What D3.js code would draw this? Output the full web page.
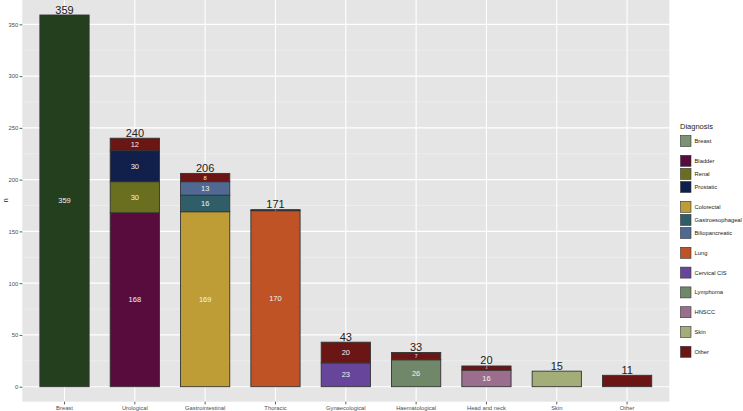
<!DOCTYPE html>
<html>
<head>
<meta charset="utf-8">
<script src="https://cdn.jsdelivr.net/npm/d3@7"></script>
<style>
  body { margin: 0; background: #fff; }
  svg { display: block; font-family: "Liberation Sans", Arial, sans-serif; }
</style>
</head>
<body>
<div id="container"></div>
<script>
const width = 743;
const height = 411;

// categories on the x axis
const categories = ["Breast", "Urological", "Gastrointestinal", "Thoracic", "Gynaecological",
  "Haematological", "Head and neck", "Skin", "Other"];
// bars that carry no inner label in the original
const unlabelled = ["Skin", "Other"];

// diagnoses in legend / stacking order (bottom to top)
const diagnoses = ["Breast", "Bladder", "Renal", "Prostatic", "Colorectal", "Gastroesophageal",
  "Biliopancreatic", "Lung", "Cervical CIS", "Lymphoma", "HNSCC", "Skin", "Other"];
const diagnosisColors = ["#243f1e", "#580b3d", "#6a6f20", "#111f4b", "#be9d36", "#2f5d68",
  "#4f6993", "#c05325", "#67459a", "#71876a", "#9b6e8d", "#a2ad77", "#6b1515"];
const legendColors = ["#7c9272", "#580b3d", "#6a6f20", "#111f4b", "#be9d36", "#2f5d68",
  "#4f6993", "#c05325", "#67459a", "#71876a", "#9b6e8d", "#a2ad77", "#6b1515"];
const legendGroup = [0, 1, 1, 1, 2, 2, 2, 3, 4, 5, 6, 7, 8];

// stacked segments
const segCategory = ["Breast",
  "Urological", "Urological", "Urological", "Urological",
  "Gastrointestinal", "Gastrointestinal", "Gastrointestinal", "Gastrointestinal",
  "Thoracic", "Thoracic",
  "Gynaecological", "Gynaecological",
  "Haematological", "Haematological",
  "Head and neck", "Head and neck",
  "Skin", "Other"];
const segDiagnosis = ["Breast",
  "Bladder", "Renal", "Prostatic", "Other",
  "Colorectal", "Gastroesophageal", "Biliopancreatic", "Other",
  "Lung", "Other",
  "Cervical CIS", "Other",
  "Lymphoma", "Other",
  "HNSCC", "Other",
  "Skin", "Other"];
const segN = [359, 168, 30, 30, 12, 169, 16, 13, 8, 170, 1, 23, 20, 26, 7, 16, 4, 15, 11];

const yTicks = [0, 50, 100, 150, 200, 250, 300, 350];
const yMinor = [25, 75, 125, 175, 225, 275, 325];

// table for d3.stack
const table = categories.map(c => {
  const row = { category: c };
  diagnoses.forEach(d => row[d] = 0);
  segCategory.forEach((sc, i) => { if (sc === c) row[segDiagnosis[i]] += segN[i]; });
  return row;
});
const totals = table.map(r => ({ category: r.category, total: d3.sum(diagnoses, d => r[d]) }));

const panel = { left: 22.3, right: 669.3, top: 0, bottom: 401.7 };

const svg = d3.select('#container').append('svg')
  .attr('width', width).attr('height', height);

const x = d3.scaleBand()
  .domain(categories)
  .range([panel.left, panel.right])
  .paddingInner(0.3)
  .paddingOuter(0.25);

const y = d3.scaleLinear()
  .domain([-14.5, 373.5])
  .range([panel.bottom, panel.top]);

const color = d3.scaleOrdinal().domain(diagnoses).range(diagnosisColors);

// panel background
svg.append('rect')
  .attr('x', panel.left).attr('y', panel.top)
  .attr('width', panel.right - panel.left).attr('height', panel.bottom - panel.top)
  .attr('fill', '#e5e5e5');

const grid = svg.append('g');
grid.selectAll('.minor').data(yMinor).enter().append('line')
  .attr('x1', panel.left).attr('x2', panel.right)
  .attr('y1', d => y(d)).attr('y2', d => y(d))
  .attr('stroke', '#f2f2f2').attr('stroke-width', 0.6);
grid.selectAll('.major').data(yTicks).enter().append('line')
  .attr('x1', panel.left).attr('x2', panel.right)
  .attr('y1', d => y(d)).attr('y2', d => y(d))
  .attr('stroke', '#fff').attr('stroke-width', 1.1);
grid.selectAll('.vmajor').data(categories).enter().append('line')
  .attr('x1', d => x(d) + x.bandwidth() / 2).attr('x2', d => x(d) + x.bandwidth() / 2)
  .attr('y1', panel.top).attr('y2', panel.bottom)
  .attr('stroke', '#fff').attr('stroke-width', 1.1);

// stacked bars
const series = d3.stack().keys(diagnoses)(table);
const segs = [];
series.forEach(s => {
  s.forEach(p => {
    if (p[1] - p[0] > 0) segs.push({ key: s.key, category: p.data.category, y0: p[0], y1: p[1] });
  });
});

svg.append('g').selectAll('rect').data(segs).enter().append('rect')
  .attr('x', d => x(d.category))
  .attr('width', x.bandwidth())
  .attr('y', d => y(d.y1))
  .attr('height', d => y(d.y0) - y(d.y1))
  .attr('fill', d => color(d.key))
  .attr('stroke', '#333')
  .attr('stroke-width', 0.9);

// segment labels (small segments get small text)
svg.append('g').selectAll('text')
  .data(segs.filter(d => !unlabelled.includes(d.category)))
  .enter().append('text')
  .attr('x', d => x(d.category) + x.bandwidth() / 2)
  .attr('y', d => y((d.y0 + d.y1) / 2))
  .attr('dy', '0.35em')
  .attr('text-anchor', 'middle')
  .attr('fill', '#f2f2f2')
  .attr('font-size', d => Math.max(2, Math.min(7.5, (y(d.y0) - y(d.y1)) * 0.7)))
  .text(d => d.y1 - d.y0);

// totals
svg.append('g').selectAll('text').data(totals).enter().append('text')
  .attr('x', d => x(d.category) + x.bandwidth() / 2)
  .attr('y', d => y(d.total) - 1.5)
  .attr('text-anchor', 'middle')
  .attr('fill', '#222')
  .attr('font-size', 11)
  .text(d => d.total);

// y axis
const axisY = svg.append('g')
  .attr('transform', `translate(${panel.left}, 0)`)
  .call(d3.axisLeft(y).tickValues(yTicks).tickSize(2.7).tickPadding(1.5));
axisY.select('.domain').remove();
axisY.selectAll('line').attr('stroke', '#333').attr('stroke-width', 0.8);
axisY.selectAll('text').attr('fill', '#4d4d4d').attr('font-size', 5.8)
  .attr('font-family', '"Liberation Sans", Arial, sans-serif');

svg.append('text')
  .attr('transform', `translate(8, ${y(180)}) rotate(-90)`)
  .attr('text-anchor', 'middle')
  .attr('font-size', 7.5)
  .attr('fill', '#222')
  .text('n');

// x axis
const axisX = svg.append('g')
  .attr('transform', `translate(0, ${panel.bottom})`)
  .call(d3.axisBottom(x).tickSize(2.7).tickPadding(1.2));
axisX.select('.domain').remove();
axisX.selectAll('line').attr('stroke', '#333').attr('stroke-width', 0.8);
axisX.selectAll('text').attr('fill', '#4d4d4d').attr('font-size', 5.8)
  .attr('font-family', '"Liberation Sans", Arial, sans-serif');

// legend
const legend = svg.append('g');
legend.append('text')
  .attr('x', 680).attr('y', 128.5)
  .attr('font-size', 7.5).attr('fill', '#222')
  .text('Diagnosis');

let ly = 135.5;
const legendY = diagnoses.map((d, i) => {
  if (i > 0) ly += legendGroup[i] === legendGroup[i - 1] ? 13.1 : 19.8;
  return ly;
});

const keys = legend.selectAll('g.key').data(diagnoses).enter().append('g')
  .attr('transform', (d, i) => `translate(680.5, ${legendY[i]})`);
keys.append('rect')
  .attr('width', 10.5).attr('height', 11)
  .attr('fill', (d, i) => legendColors[i])
  .attr('stroke', '#333').attr('stroke-width', 0.6);
keys.append('text')
  .attr('x', 14).attr('y', 5.5).attr('dy', '0.35em')
  .attr('font-size', 5.8).attr('fill', '#222')
  .text(d => d);
</script>
</body>
</html>
